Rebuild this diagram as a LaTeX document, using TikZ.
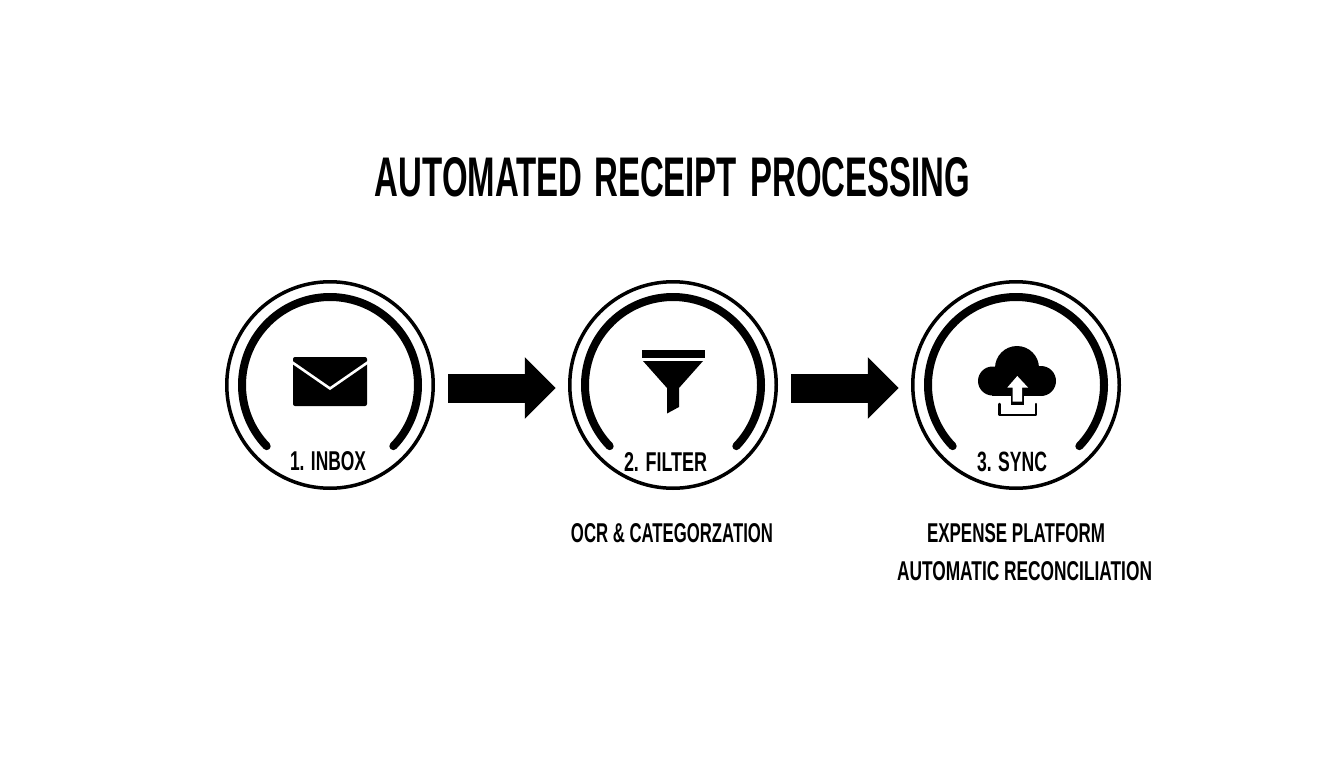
\documentclass[tikz,border=0pt]{standalone}
\usepackage{fontspec}
\setmainfont{Liberation Sans}
\usetikzlibrary{arrows.meta,calc}
\newcommand{\fittext}[3]{\resizebox{#1pt}{#2pt}{\bfseries #3}}
\tikzset{
  ring/.style={circle,draw=black,line width=3.5pt,minimum size=206.5pt,inner sep=0pt,outer sep=0pt,fill=white},
  gauge/.style={draw=black,line width=8pt,line cap=round},
  flow/.style={line width=29pt,draw=black,-{Triangle[length=31pt,width=60pt]},shorten <=15pt,shorten >=14pt},
  lab/.style={inner sep=0pt,outer sep=0pt,text=black},
  ink/.style={fill=black,draw=none}
}
\begin{document}
\begin{tikzpicture}[x=1pt,y=-1pt]
\useasboundingbox[fill=white] (0,0) rectangle (1344,768);
\node[lab] (title) at (672.5,177.5) {\fittext{595}{39}{AUTOMATED\hspace{.08em} RECEIPT\hspace{.12em} PROCESSING}};
\node[ring] (c1) at (330,385) {};
\node[ring] (c2) at (673,385) {};
\node[ring] (c3) at (1016,385) {};
\foreach \c in {c1,c2,c3}
  \draw[gauge] ([shift={(224:88pt)}]\c.center) arc[start angle=224,end angle=-44,radius=88pt];
\draw[flow] ([yshift=-3pt]c1.east) -- ([yshift=-3pt]c2.west);
\draw[flow] ([yshift=-3pt]c2.east) -- ([yshift=-3pt]c3.west);
% envelope
\fill[ink,rounded corners=2pt] (293,357) rectangle (367,406);
\draw[white,line width=2.6pt] (291,361.5) -- (330,388.5) -- (369,361.5);
% funnel
\fill[ink] (642,350) rectangle (705,358);
\fill[ink] (643,361) -- (703,361) -- (679,388) -- (679,407) -- (667,413.5) -- (667,388) -- cycle;
% cloud
\fill[ink] (992.5,381) circle[radius=14.5pt];
\fill[ink] (1017,368) circle[radius=22pt];
\fill[ink] (1041,381) circle[radius=15pt];
\fill[ink] (992,375) rectangle (1041,396);
\fill[ink] (1011,396) rectangle (1024,405);
\fill[white] (1017.3,376) -- (1028,387.5) -- (1022,387.5) -- (1022,401.7) -- (1012.7,401.7) -- (1012.7,387.5) -- (1007.3,387.5) -- cycle;
\draw[black,line width=2.5pt,line join=round,line cap=round] (999.3,404) -- (999.3,415) -- (1036,415) -- (1036,404);
% labels
\node[lab] (l1) at (328,461.5) {\fittext{76}{19}{1. INBOX}};
\node[lab] (l2) at (665.5,461.5) {\fittext{83}{19}{2. FILTER}};
\node[lab] (l3) at (1012,461.5) {\fittext{70}{19.5}{3. SYNC}};
\node[lab] (d2) at (672,533.5) {\fittext{202}{19}{OCR \& CATEGORZATION}};
\node[lab] (d3a) at (1016,533) {\fittext{178}{19}{EXPENSE PLATFORM}};
\node[lab] (d3b) at (1024.5,571) {\fittext{255}{19}{AUTOMATIC RECONCILIATION}};
\end{tikzpicture}
\end{document}
